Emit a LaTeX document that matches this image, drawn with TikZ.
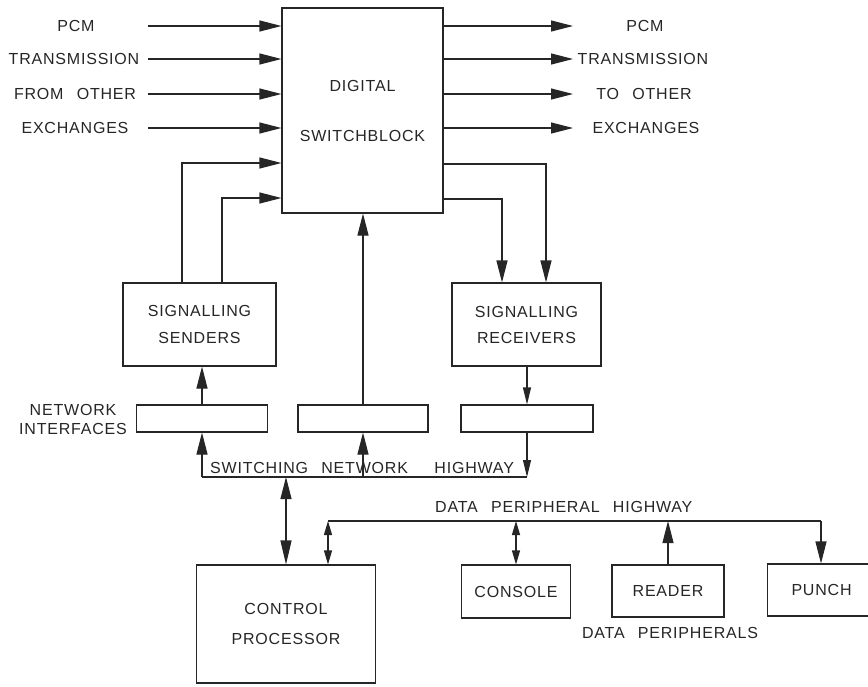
\documentclass[tikz,border=0pt]{standalone}
\usepackage{fontspec}
\setmainfont{Liberation Sans}[LetterSpace=5]
\usetikzlibrary{arrows.meta}
\newcommand\wsp{\ \hspace{0.5em}}
\begin{document}
\begin{tikzpicture}[x=1pt,y=-1pt,
  ink/.style={line width=1.1pt, draw=black!85},
  lbl/.style={font=\fontsize{16}{18}\selectfont, text=black!85, inner sep=0pt},
  blk/.style={ink, rectangle, inner sep=0pt, align=center,
              font=\fontsize{16}{18}\selectfont, text=black!85},
  arrB/.style={ink, -{Triangle[length=22pt,width=11pt]}},
  arrS/.style={ink, -{Triangle[length=17pt,width=8pt]}},
  dblB/.style={ink, {Triangle[length=22pt,width=11pt]}-{Triangle[length=24pt,width=11pt]}},
  dblS/.style={ink, {Triangle[length=14pt,width=8pt]}-{Triangle[length=14pt,width=8pt]}},
]
\fill[white] (0,0) rectangle (868,686);
\useasboundingbox (0,0) rectangle (868,686);

% ---- blocks ----
\node[blk, minimum width=161pt, minimum height=205pt] (sb) at (362.5,110.5)
  {DIGITAL\\[32pt]SWITCHBLOCK};
\node[blk, minimum width=153pt, minimum height=83pt] (ss) at (199.5,324.5)
  {SIGNALLING\\[9pt]SENDERS};
\node[blk, minimum width=149pt, minimum height=83pt] (rv) at (526.5,324.5)
  {SIGNALLING\\[8pt]RECEIVERS};
\node[blk, minimum width=131pt, minimum height=27pt] (ni1) at (202,418.5) {};
\node[blk, minimum width=130pt, minimum height=27pt] (ni2) at (363,418.5) {};
\node[blk, minimum width=132pt, minimum height=27pt] (ni3) at (527,418.5) {};
\node[blk, minimum width=179pt, minimum height=118pt] (cp) at (286,624)
  {CONTROL\\[12pt]PROCESSOR};
\node[blk, minimum width=109pt, minimum height=53pt] (co) at (516,591.5) {CONSOLE};
\node[blk, minimum width=112pt, minimum height=52pt] (rd) at (668,591) {READER};
\node[blk, minimum width=120pt, minimum height=52pt, anchor=west] (pu) at (767,590) {\hspace{-12pt}PUNCH};

% ---- labels ----
\node[lbl] (lpcm)  at (76,26)  {PCM};
\node[lbl] (ltr)   at (74,59)  {TRANSMISSION};
\node[lbl] (lfrom) at (75,94)  {FROM\wsp OTHER};
\node[lbl] (lexch) at (75,128) {EXCHANGES};
\node[lbl] (rpcm)  at (645,26)  {PCM};
\node[lbl] (rtr)   at (643,59)  {TRANSMISSION};
\node[lbl] (rto)   at (644,94)  {TO\wsp OTHER};
\node[lbl] (rexch) at (646,128) {EXCHANGES};
\node[lbl, align=center, font=\fontsize{16}{19}\selectfont] (lni) at (73,419.5)
  {NETWORK\\INTERFACES};
\node[lbl, anchor=west] (lsnh) at (210,468)
  {SWITCHING\wsp NETWORK\wsp\wsp HIGHWAY};
\node[lbl, anchor=west] (ldph) at (435,507)
  {DATA\wsp PERIPHERAL\wsp HIGHWAY};
\node[lbl] (ldp) at (670,633) {DATA\wsp PERIPHERALS};

% ---- PCM transmission in and out ----
\foreach \yy [count=\i] in {26,59,94,128} {
  \coordinate (in\i) at (148,\yy);
  \coordinate (out\i) at (573,\yy);
  \draw[arrB] (in\i) -- (in\i -| sb.west);
  \draw[arrB] (out\i -| sb.east) -- (out\i);
}

% ---- signalling paths ----
\coordinate (fbA) at (182,163);
\coordinate (fbB) at (222,198);
\draw[arrB] (ss.north -| fbA) |- (sb.west |- fbA);
\draw[arrB] (ss.north -| fbB) |- (sb.west |- fbB);
\coordinate (rvA) at (546,164);
\coordinate (rvB) at (502,199);
\draw[arrB] (sb.east |- rvA) -| (rv.north -| rvA);
\draw[arrB] (sb.east |- rvB) -| (rv.north -| rvB);

\draw[arrB] (ni1.north) -- (ni1.north |- ss.south);
\draw[arrB] (ni2.north) -- (ni2.north |- sb.south);
\draw[arrS] (ni3.north |- rv.south) -- (ni3.north);

% ---- switching network highway ----
\coordinate (hwL) at (202,477);
\coordinate (hwR) at (527,477);
\draw[ink] (hwL) -- (hwR);
\draw[arrB] (hwL) -- (ni1.south);
\draw[arrB] (ni2.south |- hwL) -- (ni2.south);
\draw[arrS] (ni3.south) -- (hwR);
\draw[dblB] (cp.north |- hwL) -- (cp.north);

% ---- data peripheral highway ----
\coordinate (dhL) at (328,521);
\coordinate (dhR) at (821,521);
\draw[ink] (dhL) -- (dhR);
\draw[dblS] (dhL) -- (cp.north -| dhL);
\draw[dblS] (co.north |- dhL) -- (co.north);
\draw[arrB] (rd.north) -- (rd.north |- dhL);
\draw[arrB] (dhR) -- (dhR |- pu.north);
\end{tikzpicture}
\end{document}
